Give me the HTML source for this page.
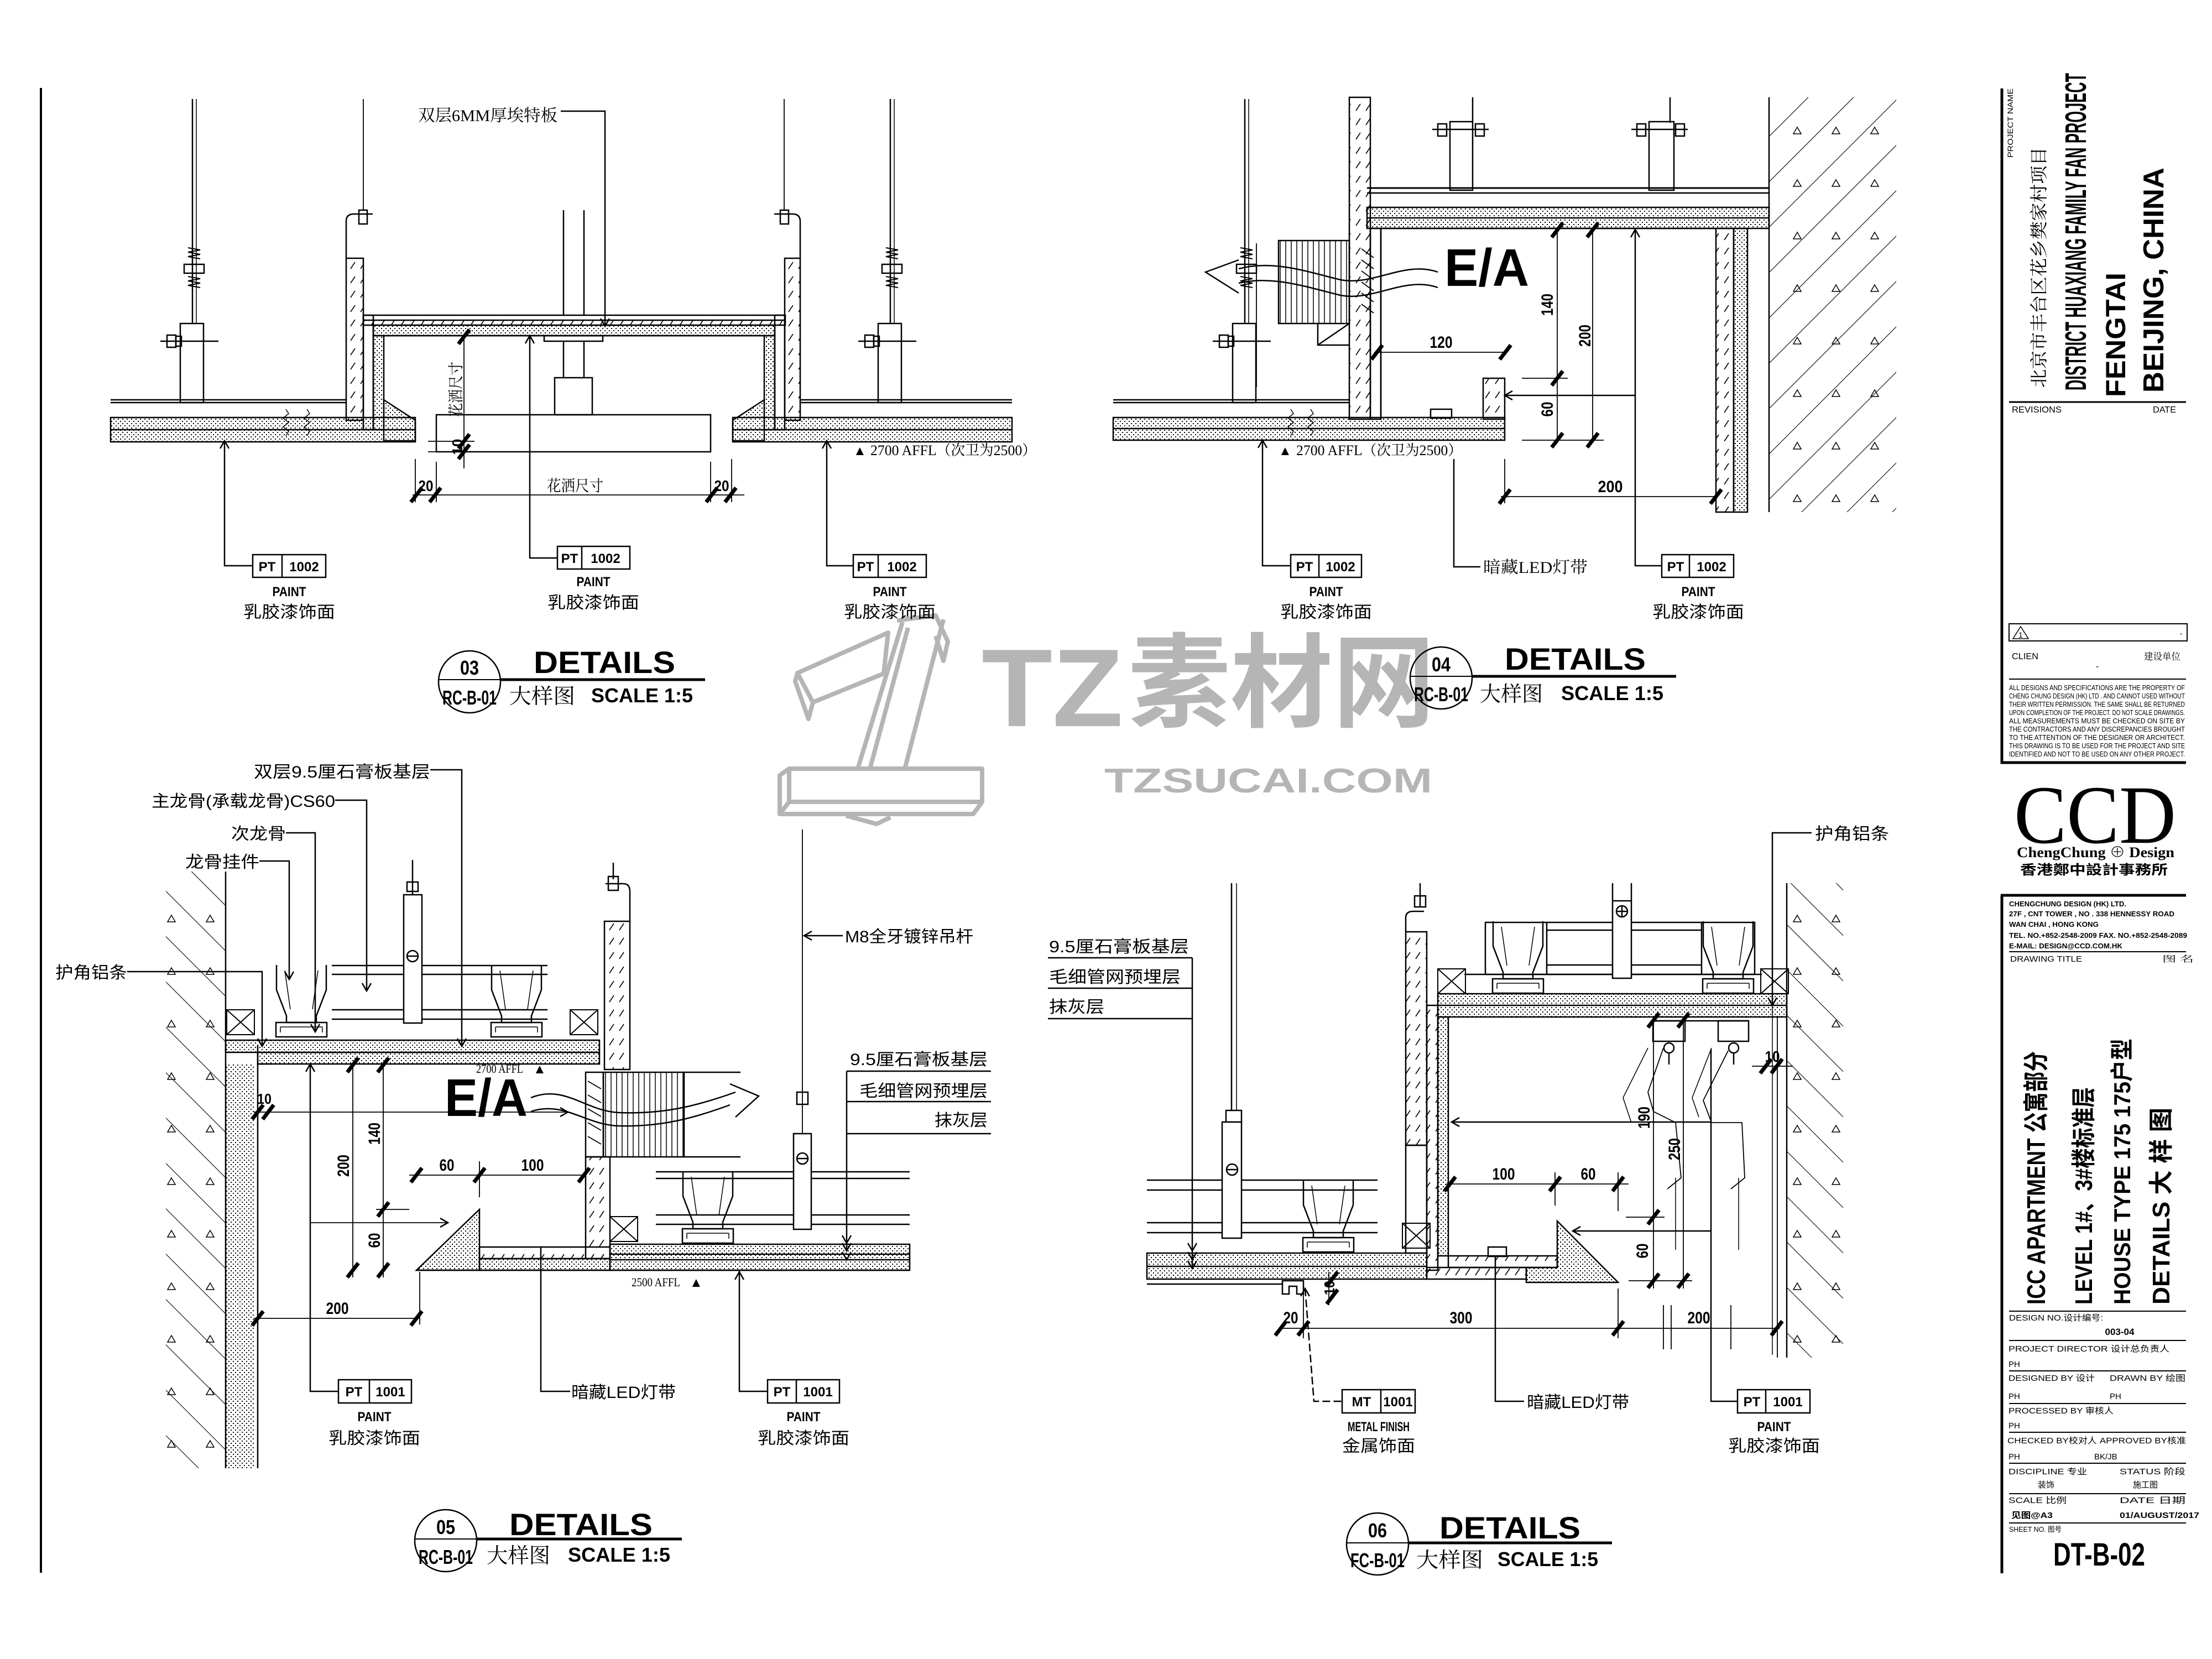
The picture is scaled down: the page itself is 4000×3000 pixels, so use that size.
<!DOCTYPE html>
<html><head><meta charset="utf-8">
<style>
html,body{margin:0;padding:0;background:#fff;}
svg{display:block;}
svg text{fill:#000;stroke:none;font-family:"Liberation Sans","Noto Sans CJK SC",sans-serif;}
.b{font-weight:bold;}
.n{font-family:"Liberation Sans Narrow","Liberation Sans","Noto Sans CJK SC",sans-serif !important;}
.cn{font-family:"Liberation Serif","Noto Serif CJK SC",serif !important;}
.tc{font-family:"Liberation Sans","Noto Sans CJK TC",sans-serif !important;}
</style></head><body>
<svg width="4000" height="3000" viewBox="0 0 4000 3000" xmlns="http://www.w3.org/2000/svg">
<defs>
<pattern id="dots" width="8" height="8" patternUnits="userSpaceOnUse"><rect x="1" y="1" width="2" height="2" fill="#000"/><rect x="5" y="5" width="2" height="2" fill="#000"/></pattern>
<pattern id="gyp" width="18" height="26" patternUnits="userSpaceOnUse"><path d="M4,18 L12,6" stroke="#000" stroke-width="1.6"/></pattern>
<pattern id="hs" width="58" height="58" patternUnits="userSpaceOnUse" patternTransform="rotate(45)"><line x1="0" y1="0" x2="0" y2="58" stroke="#000" stroke-width="2.2"/></pattern>
<pattern id="hb" width="58" height="58" patternUnits="userSpaceOnUse" patternTransform="rotate(-45)"><line x1="0" y1="0" x2="0" y2="58" stroke="#000" stroke-width="2.2"/></pattern>
<pattern id="tri" width="70" height="95" patternUnits="userSpaceOnUse"><path d="M30,40 l7,12 h-14z" fill="none" stroke="#000" stroke-width="1.5"/></pattern>
<pattern id="slat" width="10" height="10" patternUnits="userSpaceOnUse"><line x1="5" y1="0" x2="5" y2="10" stroke="#000" stroke-width="1.5"/></pattern>
<g id="tk"><line x1="-10" y1="13" x2="10" y2="-13" stroke="#000" stroke-width="7"/></g>
<polyline id="au" points="-8,14 0,0 8,14" fill="none" stroke="#000" stroke-width="2.5"/>
<polyline id="ad" points="-8,-14 0,0 8,-14" fill="none" stroke="#000" stroke-width="2.5"/>
<polyline id="al" points="14,-8 0,0 14,8" fill="none" stroke="#000" stroke-width="2.5"/>
<polyline id="ar" points="-14,-8 0,0 -14,8" fill="none" stroke="#000" stroke-width="2.5"/>
<g id="pf" fill="none" stroke="#000" stroke-width="2.5">
 <path d="M-45,0 V45 L-27,92 V104 H27 V92 L45,45 V0"/>
 <path d="M-30,10 L-20,80 M30,10 L20,80" stroke-width="1.5"/>
 <path d="M-46,104 H46 V130 H-46 Z"/>
 <path d="M-38,112 H38 M-38,112 V122 M38,112 V122" stroke-width="1.5"/>
</g>
<g id="bx" fill="none" stroke="#000" stroke-width="2"><rect x="0" y="0" width="50" height="45"/><path d="M0,0 L50,45 M50,0 L0,45"/></g>
<g id="hang" fill="none" stroke="#000" stroke-width="2.5">
 <line x1="0" y1="0" x2="0" y2="406"/>
 <line x1="7" y1="0" x2="7" y2="406" stroke-width="1.5"/>
 <path d="M-8,269 l22,4 l-22,4 l22,4 l-22,4 l22,4" stroke-width="2"/>
 <rect x="-15" y="299" width="36" height="16"/>
 <path d="M-8,321 l22,4 l-22,4 l22,4 l-22,4 l22,4" stroke-width="2"/>
 <rect x="-22" y="406" width="42" height="143"/>
 <line x1="-58" y1="438" x2="47" y2="438"/>
 <rect x="-46" y="427" width="16" height="22"/><rect x="-30" y="429" width="10" height="18"/>
</g>
</defs>

<!-- ===== WATERMARK ===== -->
<g fill="none" stroke="#b5b5b5" stroke-width="8" stroke-linejoin="round">
 <path d="M1427,1390 H1776 V1450 H1427 Z"/>
 <path d="M1427,1390 L1410,1402 V1472 L1427,1450"/>
 <path d="M1410,1472 H1760 L1776,1450"/>
 <path d="M1530,1475 L1585,1490 L1610,1478"/>
 <path d="M1632,1125 L1552,1387 M1706,1120 L1637,1387 M1642,1135 L1574,1387"/>
 <path d="M1622,1122 L1692,1113 L1714,1160 L1706,1195 L1692,1150"/>
 <path d="M1442,1217 L1606,1144 L1598,1218 L1470,1270 L1462,1300 L1438,1232 Z"/>
 <path d="M1442,1217 L1470,1270"/>
</g>
<text x="1775" y="1313" style="fill:#b5b5b5" class="b" font-size="200" textLength="256" lengthAdjust="spacingAndGlyphs">TZ</text>
<text x="2040" y="1300" style="fill:#b5b5b5" class="b" font-size="185" textLength="555" lengthAdjust="spacingAndGlyphs">素材网</text>
<text x="1997" y="1433" style="fill:#b5b5b5" class="b" font-size="62" textLength="593" lengthAdjust="spacingAndGlyphs">TZSUCAI.COM</text>

<!-- frame line -->
<line x1="74" y1="159" x2="74" y2="2844" stroke="#000" stroke-width="4"/>

<g fill="none" stroke="#000" stroke-width="2.5">

<!-- ================= DETAIL 03 ================= -->
<use href="#hang" x="348" y="179"/>
<use href="#hang" x="1610" y="179"/>
<line x1="200" y1="723" x2="626" y2="723"/><line x1="200" y1="728" x2="626" y2="728"/>
<rect x="200" y="755" width="551" height="44" fill="url(#dots)"/>
<line x1="200" y1="777" x2="751" y2="777"/>
<path d="M517,740 l5,8 l-10,8 l10,8 l-10,8 l10,8 l-5,8 M555,740 l5,8 l-10,8 l10,8 l-10,8 l10,8 l-5,8" stroke-width="1.5"/>
<line x1="1447" y1="723" x2="1830" y2="723"/><line x1="1447" y1="728" x2="1830" y2="728"/>
<rect x="1325" y="755" width="505" height="44" fill="url(#dots)"/>
<line x1="1325" y1="777" x2="1830" y2="777"/>
<rect x="626" y="467" width="31" height="293" fill="url(#gyp)"/>
<rect x="657" y="570" width="18" height="207"/>
<rect x="675" y="607" width="19" height="170" fill="url(#dots)"/>
<path d="M694,723 L751,760 V797 H694 Z" fill="url(#dots)"/>
<rect x="1419" y="467" width="28" height="293" fill="url(#gyp)"/>
<rect x="1401" y="570" width="18" height="207"/>
<rect x="1382" y="607" width="19" height="170" fill="url(#dots)"/>
<path d="M1382,723 L1325,760 V797 H1382 Z" fill="url(#dots)"/>
<rect x="657" y="570" width="763" height="18" fill="url(#gyp)"/>
<line x1="657" y1="579" x2="1420" y2="579"/>
<rect x="675" y="588" width="726" height="19" fill="url(#dots)"/>
<line x1="694" y1="607" x2="1382" y2="607"/>
<path d="M626,467 V400 Q626,387 640,387 H674"/>
<rect x="649" y="380" width="15" height="25"/>
<line x1="657" y1="179" x2="657" y2="380" stroke-width="1.8"/>
<path d="M1447,467 V400 Q1447,387 1433,387 H1400"/>
<rect x="1411" y="380" width="15" height="25"/>
<line x1="1418" y1="179" x2="1418" y2="380" stroke-width="1.8"/>
<line x1="1019" y1="380" x2="1019" y2="570"/><line x1="1056" y1="380" x2="1056" y2="570"/>
<rect x="984" y="607" width="106" height="10"/>
<line x1="1019" y1="617" x2="1019" y2="683"/><line x1="1056" y1="617" x2="1056" y2="683"/>
<rect x="1003" y="683" width="68" height="67"/>
<rect x="789" y="750" width="496" height="67"/>
<line x1="839" y1="607" x2="839" y2="847" stroke-width="1.8"/>
<line x1="774" y1="798" x2="858" y2="798" stroke-width="1.8"/>
<line x1="774" y1="817" x2="858" y2="817" stroke-width="1.8"/>
<use href="#tk" x="839" y="609"/><use href="#tk" x="839" y="798"/><use href="#tk" x="839" y="817"/>
<line x1="746" y1="895" x2="1346" y2="895" stroke-width="1.8"/>
<line x1="751" y1="830" x2="751" y2="908" stroke-width="1.8"/><line x1="789" y1="835" x2="789" y2="908" stroke-width="1.8"/>
<line x1="1285" y1="835" x2="1285" y2="908" stroke-width="1.8"/><line x1="1323" y1="830" x2="1323" y2="908" stroke-width="1.8"/>
<use href="#tk" x="753" y="895"/><use href="#tk" x="787" y="895"/><use href="#tk" x="1287" y="895"/><use href="#tk" x="1321" y="895"/>
<path d="M1014,201 H1094 V590"/><use href="#ad" x="1094" y="590"/>
<path d="M958,607 V1009 H1008"/><use href="#au" x="958" y="607"/>
<path d="M406,797 V1023 H457"/><use href="#au" x="406" y="797"/>
<path d="M1495,797 V1023 H1543"/><use href="#au" x="1495" y="797"/>
<rect x="457" y="1003" width="132" height="41"/><line x1="510" y1="1003" x2="510" y2="1044"/>
<rect x="1008" y="988" width="131" height="41"/><line x1="1052" y1="988" x2="1052" y2="1029"/>
<rect x="1543" y="1003" width="132" height="41"/><line x1="1588" y1="1003" x2="1588" y2="1044"/>
<circle cx="849" cy="1233" r="56"/>
<line x1="793" y1="1229" x2="905" y2="1229" stroke-width="2"/>
<line x1="905" y1="1229" x2="1275" y2="1229" stroke-width="5"/>

<!-- ================= DETAIL 04 ================= -->
<use href="#hang" x="2251" y="179"/>
<line x1="2272" y1="440" x2="2272" y2="700" stroke-width="1.8"/>
<line x1="2013" y1="723" x2="2440" y2="723"/><line x1="2013" y1="728" x2="2440" y2="728"/>
<rect x="2013" y="755" width="708" height="41" fill="url(#dots)"/>
<line x1="2013" y1="775" x2="2721" y2="775"/>
<path d="M2334,740 l5,8 l-10,8 l10,8 l-10,8 l10,8 l-5,8 M2370,740 l5,8 l-10,8 l10,8 l-10,8 l10,8 l-5,8" stroke-width="1.5"/>
<rect x="2440" y="176" width="38" height="582" fill="url(#gyp)"/>
<rect x="2478" y="413" width="19" height="345"/>
<path d="M2462,450 l22,16 M2462,470 l22,16 M2462,490 l22,16 M2462,510 l22,16 M2462,530 l22,16 M2462,550 l22,16" stroke-width="1.8"/>
<rect x="2312" y="435" width="128" height="150" fill="url(#slat)"/>
<path d="M2383,585 V624 H2440 M2383,624 L2440,585"/>
<path d="M2600,492 C2540,470 2480,520 2420,505 C2360,490 2300,470 2240,486" stroke-width="2.5"/>
<path d="M2600,520 C2540,498 2480,548 2420,533 C2360,518 2300,498 2240,512" stroke-width="2.5"/>
<path d="M2240,470 L2180,492 L2240,530"/>
<line x1="2472" y1="340" x2="3199" y2="340" stroke-width="3"/><line x1="2472" y1="349" x2="3199" y2="349"/>
<rect x="2472" y="375" width="727" height="38" fill="url(#dots)"/>
<line x1="2472" y1="394" x2="3199" y2="394"/>
<rect x="2622" y="220" width="41" height="124"/><line x1="2663" y1="176" x2="2663" y2="222"/>
<line x1="2590" y1="234" x2="2692" y2="234"/><rect x="2600" y="224" width="16" height="22"/><rect x="2668" y="224" width="16" height="22"/>
<rect x="2982" y="220" width="45" height="124"/><line x1="3020" y1="176" x2="3020" y2="222"/>
<line x1="2950" y1="234" x2="3052" y2="234"/><rect x="2960" y="224" width="16" height="22"/><rect x="3030" y="224" width="16" height="22"/>
<line x1="2497" y1="413" x2="3103" y2="413"/>
<line x1="2497" y1="413" x2="2497" y2="758"/>
<rect x="3103" y="413" width="32" height="513" fill="url(#gyp)"/>
<rect x="3135" y="413" width="25" height="513" fill="url(#dots)"/>
<rect x="3199" y="176" width="230" height="750" fill="url(#hs)" stroke="none"/>
<rect x="3199" y="176" width="230" height="750" fill="url(#tri)" stroke="none"/>
<line x1="3199" y1="176" x2="3199" y2="926"/>
<rect x="2682" y="684" width="39" height="74" fill="url(#gyp)"/>
<rect x="2587" y="740" width="38" height="16"/>
<line x1="2485" y1="637" x2="2725" y2="637" stroke-width="1.8"/>
<use href="#tk" x="2490" y="637"/><use href="#tk" x="2722" y="637"/>
<line x1="2816" y1="413" x2="2816" y2="800" stroke-width="1.8"/>
<line x1="2880" y1="413" x2="2880" y2="800" stroke-width="1.8"/>
<line x1="2752" y1="684" x2="2835" y2="684" stroke-width="1.8"/>
<line x1="2752" y1="796" x2="2900" y2="796" stroke-width="1.8"/>
<use href="#tk" x="2816" y="416"/><use href="#tk" x="2816" y="684"/><use href="#tk" x="2816" y="796"/>
<use href="#tk" x="2880" y="416"/><use href="#tk" x="2880" y="796"/>
<path d="M2957,415 V1023 H3005"/><use href="#au" x="2957" y="415"/>
<line x1="2721" y1="715" x2="2957" y2="715"/><use href="#al" x="2721" y="715"/>
<line x1="2714" y1="898" x2="3103" y2="898" stroke-width="1.8"/>
<line x1="2721" y1="830" x2="2721" y2="910" stroke-width="1.8"/>
<use href="#tk" x="2721" y="898"/><use href="#tk" x="3103" y="898"/>
<path d="M2283,796 V1023 H2334"/><use href="#au" x="2283" y="796"/>
<path d="M2629,830 V1025 H2677"/>
<rect x="2334" y="1003" width="128" height="41"/><line x1="2385" y1="1003" x2="2385" y2="1044"/>
<rect x="3005" y="1003" width="130" height="41"/><line x1="3055" y1="1003" x2="3055" y2="1044"/>
<circle cx="2606" cy="1226" r="56"/>
<line x1="2550" y1="1223" x2="2662" y2="1223" stroke-width="2"/>
<line x1="2662" y1="1223" x2="3031" y2="1223" stroke-width="5"/>

<!-- ================= DETAIL 05 ================= -->
<rect x="300" y="1576" width="108" height="1079" fill="url(#hb)" stroke="none"/>
<rect x="300" y="1576" width="108" height="1079" fill="url(#tri)" stroke="none"/>
<line x1="408" y1="1576" x2="408" y2="2655"/>
<rect x="408" y="1924" width="52" height="731" fill="url(#dots)" stroke="none"/>
<line x1="466" y1="1924" x2="466" y2="2655"/>
<rect x="408" y="1881" width="676" height="22" fill="url(#dots)"/>
<rect x="466" y="1903" width="618" height="21" fill="url(#dots)"/>
<path d="M466,1890 V1924 H490"/>
<use href="#bx" x="410" y="1826"/><use href="#bx" x="1031" y="1826"/>
<line x1="600" y1="1746" x2="990" y2="1746"/><line x1="600" y1="1762" x2="990" y2="1762"/>
<line x1="600" y1="1826" x2="990" y2="1826"/><line x1="600" y1="1843" x2="990" y2="1843"/>
<use href="#pf" x="545" y="1745"/><use href="#pf" x="934" y="1745"/>
<rect x="730" y="1618" width="33" height="232" fill="#fff"/>
<line x1="746" y1="1555" x2="746" y2="1618"/><rect x="736" y="1595" width="20" height="17"/>
<circle cx="746" cy="1729" r="10"/><line x1="736" y1="1729" x2="756" y2="1729"/>
<rect x="1093" y="1666" width="46" height="268" fill="url(#gyp)"/>
<path d="M1139,1666 V1612 Q1139,1598 1127,1598 H1095"/>
<rect x="1100" y="1585" width="18" height="25"/><line x1="1109" y1="1560" x2="1109" y2="1590"/>
<rect x="1091" y="1939" width="146" height="153" fill="url(#slat)"/>
<line x1="1237" y1="1939" x2="1339" y2="1939"/><line x1="1237" y1="2092" x2="1339" y2="2092"/>
<rect x="1059" y="1939" width="32" height="153"/>
<path d="M1063,1955 l24,14 M1063,1980 l24,14 M1063,2005 l24,14 M1063,2030 l24,14 M1063,2055 l24,14" stroke-width="1.8"/>
<path d="M960,1985 C1020,1960 1060,2010 1120,2012 C1200,2015 1260,2000 1330,1975"/>
<path d="M960,2010 C1020,1990 1060,2035 1120,2036 C1200,2038 1260,2020 1320,1998"/>
<path d="M1320,1960 L1372,1982 L1330,2020"/>
<rect x="1059" y="2092" width="44" height="184" fill="url(#gyp)"/>
<rect x="867" y="2255" width="236" height="21" fill="url(#gyp)"/>
<path d="M753,2297 L867,2187 V2297 Z" fill="url(#dots)"/>
<rect x="867" y="2276" width="236" height="21" fill="url(#dots)"/>
<line x1="753" y1="2297" x2="1645" y2="2297"/>
<rect x="1103" y="2250" width="542" height="47" fill="url(#dots)"/>
<line x1="1103" y1="2268" x2="1645" y2="2268"/><line x1="1103" y1="2278" x2="1645" y2="2278"/>
<line x1="1186" y1="2119" x2="1645" y2="2119"/><line x1="1186" y1="2131" x2="1645" y2="2131"/>
<line x1="1186" y1="2197" x2="1645" y2="2197"/><line x1="1186" y1="2214" x2="1645" y2="2214"/>
<use href="#bx" x="1103" y="2200"/>
<use href="#pf" x="1280" y="2118"/>
<line x1="1451" y1="1500" x2="1451" y2="2050" stroke-width="1.8"/>
<rect x="1441" y="1975" width="20" height="22"/>
<rect x="1435" y="2050" width="32" height="173" fill="#fff"/>
<circle cx="1451" cy="2095" r="10"/><line x1="1441" y1="2095" x2="1461" y2="2095"/>
<line x1="1454" y1="1692" x2="1524" y2="1692"/><use href="#al" x="1454" y="1692"/>
<line x1="1531" y1="1937" x2="1792" y2="1937"/><line x1="1531" y1="1992" x2="1792" y2="1992"/><line x1="1531" y1="2050" x2="1792" y2="2050"/>
<line x1="1531" y1="1937" x2="1531" y2="2262"/><use href="#ad" x="1531" y="2248"/><use href="#ad" x="1531" y="2262"/><use href="#ad" x="1531" y="2278"/>
<path d="M778,1392 H835 V1892"/><use href="#ad" x="835" y="1892"/>
<path d="M606,1447 H663 V1792"/><use href="#ad" x="663" y="1792"/>
<path d="M517,1506 H570 V1866"/><use href="#ad" x="570" y="1866"/>
<path d="M469,1557 H523 V1771"/><use href="#ad" x="523" y="1771"/>
<path d="M230,1757 H474 V1892"/><use href="#ad" x="474" y="1892"/>
<line x1="459" y1="2011" x2="1027" y2="2011" stroke-width="1.8"/><use href="#ar" x="1027" y="2011"/>
<use href="#tk" x="466" y="2011"/><use href="#tk" x="485" y="2011"/>
<path d="M561,1924 V2516 H612"/><use href="#au" x="561" y="1924"/>
<line x1="561" y1="2211" x2="810" y2="2211" stroke-width="1.8"/><use href="#ar" x="810" y="2211"/>
<line x1="638" y1="1924" x2="638" y2="2310" stroke-width="1.8"/>
<use href="#tk" x="638" y="1926"/><use href="#tk" x="638" y="2297"/>
<line x1="693" y1="1924" x2="693" y2="2310" stroke-width="1.8"/>
<use href="#tk" x="693" y="1926"/><use href="#tk" x="693" y="2187"/><use href="#tk" x="693" y="2297"/>
<line x1="680" y1="2187" x2="740" y2="2187" stroke-width="1.8"/>
<line x1="740" y1="2125" x2="1059" y2="2125" stroke-width="1.8"/>
<use href="#tk" x="753" y="2125"/><use href="#tk" x="867" y="2125"/><use href="#tk" x="1056" y="2125"/>
<line x1="867" y1="2100" x2="867" y2="2165" stroke-width="1.8"/>
<line x1="459" y1="2384" x2="759" y2="2384" stroke-width="1.8"/>
<use href="#tk" x="466" y="2384"/><use href="#tk" x="753" y="2384"/>
<line x1="759" y1="2300" x2="759" y2="2395" stroke-width="1.8"/>
<path d="M978,2255 V2516 H1031"/>
<path d="M1337,2297 V2516 H1388"/><use href="#au" x="1337" y="2300"/>
<rect x="612" y="2495" width="132" height="42"/><line x1="668" y1="2495" x2="668" y2="2537"/>
<rect x="1388" y="2495" width="130" height="42"/><line x1="1440" y1="2495" x2="1440" y2="2537"/>
<circle cx="806" cy="2786" r="56"/>
<line x1="750" y1="2783" x2="862" y2="2783" stroke-width="2"/>
<line x1="862" y1="2783" x2="1233" y2="2783" stroke-width="5"/>

<!-- ================= DETAIL 06 ================= -->
<line x1="1895" y1="1732" x2="2156" y2="1732"/><line x1="1895" y1="1787" x2="2156" y2="1787"/><line x1="1895" y1="1842" x2="2156" y2="1842"/>
<line x1="2156" y1="1732" x2="2156" y2="2290"/><use href="#ad" x="2156" y="2262"/><use href="#ad" x="2156" y="2278"/><use href="#ad" x="2156" y="2294"/>
<line x1="2227" y1="1597" x2="2227" y2="2008"/><line x1="2236" y1="1597" x2="2236" y2="2008" stroke-width="1.5"/>
<rect x="2217" y="2008" width="28" height="21"/>
<line x1="2074" y1="2134" x2="2491" y2="2134"/><line x1="2074" y1="2152" x2="2491" y2="2152"/>
<line x1="2074" y1="2211" x2="2491" y2="2211"/><line x1="2074" y1="2229" x2="2491" y2="2229"/>
<rect x="2210" y="2029" width="35" height="210" fill="#fff"/>
<circle cx="2228" cy="2115" r="10"/><line x1="2218" y1="2115" x2="2238" y2="2115"/>
<use href="#pf" x="2402" y="2134"/>
<rect x="2074" y="2266" width="506" height="47" fill="url(#dots)"/>
<line x1="2074" y1="2290" x2="2580" y2="2290"/>
<line x1="2074" y1="2322" x2="2319" y2="2322"/>
<path d="M2319,2316 H2357 V2340 H2345 V2326 H2331 V2340 H2319 Z"/>
<rect x="2542" y="1685" width="38" height="386" fill="url(#gyp)"/>
<line x1="2568" y1="1597" x2="2568" y2="1640"/><rect x="2558" y="1620" width="20" height="20"/>
<path d="M2542,1685 V1660 Q2542,1648 2555,1648 H2575"/>
<rect x="2542" y="2071" width="38" height="195"/>
<use href="#bx" x="2536" y="2212"/>
<rect x="2580" y="1818" width="20" height="479" fill="url(#gyp)"/>
<rect x="2600" y="1839" width="19" height="432" fill="url(#dots)"/>
<rect x="2600" y="1797" width="631" height="42" fill="url(#dots)"/>
<line x1="2600" y1="1818" x2="3231" y2="1818"/>
<rect x="2686" y="1668" width="111" height="94"/>
<rect x="3077" y="1668" width="96" height="94"/>
<line x1="2797" y1="1668" x2="3077" y2="1668"/><line x1="2797" y1="1682" x2="3077" y2="1682"/>
<line x1="2797" y1="1745" x2="3077" y2="1745"/><line x1="2797" y1="1762" x2="3077" y2="1762"/>
<line x1="2648" y1="1762" x2="3186" y2="1762"/>
<use href="#bx" x="2600" y="1752"/><use href="#bx" x="3184" y="1752"/>
<use href="#pf" x="2745" y="1666"/><use href="#pf" x="3125" y="1666"/>
<line x1="2916" y1="1597" x2="2916" y2="1629"/><line x1="2950" y1="1597" x2="2950" y2="1629"/>
<rect x="2916" y="1629" width="34" height="140" fill="#fff"/>
<circle cx="2933" cy="1648" r="10"/><line x1="2923" y1="1648" x2="2943" y2="1648"/><line x1="2933" y1="1638" x2="2933" y2="1658"/>
<rect x="3231" y="1597" width="102" height="858" fill="url(#hb)" stroke="none"/>
<rect x="3231" y="1597" width="102" height="858" fill="url(#tri)" stroke="none"/>
<line x1="3231" y1="1597" x2="3231" y2="2455"/>
<line x1="3214" y1="1839" x2="3214" y2="2455" stroke-width="1.8"/>
<rect x="2989" y="1846" width="58" height="37"/><rect x="3107" y="1846" width="55" height="37"/>
<line x1="2989" y1="1846" x2="3162" y2="1846"/>
<circle cx="3018" cy="1895" r="9"/><circle cx="3135" cy="1895" r="9"/>
<line x1="3018" y1="1904" x2="3018" y2="1925"/><line x1="3135" y1="1904" x2="3135" y2="1925"/>
<polyline points="3008,1895 2980,1975 2990,2010 3030,2030 3040,2130 3015,2150" stroke-width="1.8"/>
<polyline points="2980,1895 2935,1985 2950,2030" stroke-width="1.5"/>
<polyline points="3125,1900 3080,1990 3095,2030 3150,2030 3155,2130 3130,2150" stroke-width="1.8"/>
<polyline points="3095,1895 3060,1985 3072,2020" stroke-width="1.5"/>
<line x1="3030" y1="2130" x2="3030" y2="2260" stroke-width="1.5"/>
<line x1="3144" y1="2130" x2="3144" y2="2260" stroke-width="1.5"/>
<rect x="2619" y="2271" width="197" height="21" fill="url(#gyp)"/>
<rect x="2580" y="2292" width="180" height="21" fill="url(#gyp)"/>
<path d="M2816,2208 L2926,2319 H2760 V2292 H2816 Z" fill="url(#dots)"/>
<rect x="2691" y="2255" width="33" height="17"/>
<line x1="2625" y1="2029" x2="3094" y2="2029"/><use href="#al" x="2625" y="2029"/>
<path d="M3094,1897 V2534 H3142"/>
<line x1="2844" y1="2226" x2="3094" y2="2226"/><use href="#al" x="2844" y="2226"/>
<line x1="2990" y1="1839" x2="2990" y2="2330" stroke-width="1.8"/>
<line x1="3044" y1="1839" x2="3044" y2="2330" stroke-width="1.8"/>
<use href="#tk" x="2990" y="1845"/><use href="#tk" x="2990" y="2201"/><use href="#tk" x="2990" y="2316"/>
<use href="#tk" x="3044" y="1845"/><use href="#tk" x="3044" y="2316"/>
<line x1="2940" y1="2201" x2="3010" y2="2201" stroke-width="1.8"/>
<line x1="2945" y1="2316" x2="3060" y2="2316" stroke-width="1.8"/>
<line x1="2615" y1="2141" x2="2945" y2="2141" stroke-width="1.8"/>
<use href="#tk" x="2622" y="2141"/><use href="#tk" x="2812" y="2141"/><use href="#tk" x="2926" y="2141"/>
<line x1="2812" y1="2120" x2="2812" y2="2180" stroke-width="1.8"/>
<line x1="2926" y1="2120" x2="2926" y2="2190" stroke-width="1.8"/>
<line x1="2312" y1="2402" x2="3218" y2="2402" stroke-width="1.8"/>
<use href="#tk" x="2316" y="2402"/><use href="#tk" x="2357" y="2402"/><use href="#tk" x="2926" y="2402"/><use href="#tk" x="3213" y="2402"/>
<line x1="2357" y1="2330" x2="2357" y2="2420" stroke-width="1.8"/>
<line x1="2926" y1="2330" x2="2926" y2="2420" stroke-width="1.8"/>
<line x1="3008" y1="2360" x2="3008" y2="2440" stroke-width="1.8"/>
<line x1="3022" y1="2360" x2="3022" y2="2440" stroke-width="1.8"/>
<line x1="3130" y1="2360" x2="3130" y2="2440" stroke-width="1.8"/>
<line x1="2403" y1="2300" x2="2403" y2="2360" stroke-width="1.8"/>
<use href="#tk" x="2409" y="2313"/><use href="#tk" x="2409" y="2345"/>
<line x1="3168" y1="1928" x2="3242" y2="1928" stroke-width="1.8"/>
<use href="#tk" x="3193" y="1928"/><use href="#tk" x="3213" y="1928"/>
<path d="M3276,1506 H3205 V1818"/><use href="#ad" x="3205" y="1818"/>
<line x1="3205" y1="1818" x2="3205" y2="2450" stroke-width="1.5"/>
<polyline points="2360,2330 2376,2534 2427,2534" stroke-dasharray="14,6"/><use href="#au" x="2360" y="2330"/>
<path d="M2704,2271 V2534 H2756"/>
<rect x="2427" y="2513" width="132" height="42"/><line x1="2497" y1="2513" x2="2497" y2="2555"/>
<rect x="3142" y="2513" width="131" height="42"/><line x1="3193" y1="2513" x2="3193" y2="2555"/>
<circle cx="2491" cy="2792" r="56"/>
<line x1="2435" y1="2790" x2="2547" y2="2790" stroke-width="2"/>
<line x1="2547" y1="2790" x2="2915" y2="2790" stroke-width="5"/>

<!-- ================= TITLE BLOCK ================= -->
<line x1="3620" y1="160" x2="3620" y2="1381" stroke-width="5"/>
<line x1="3620" y1="1619" x2="3620" y2="2845" stroke-width="5"/>
<line x1="3633" y1="727" x2="3953" y2="727" stroke-width="3"/>
<rect x="3633" y="1128" width="322" height="31" stroke-width="2"/>
<path d="M3640,1155 L3654,1133 L3668,1155 Z" stroke-width="1.5"/>
<line x1="3633" y1="1228" x2="3953" y2="1228" stroke-width="2"/>
<line x1="3618" y1="1379" x2="3953" y2="1379" stroke-width="5"/>
<line x1="3618" y1="1619" x2="3953" y2="1619" stroke-width="5"/>
<g stroke-width="2">
<line x1="3633" y1="1721" x2="3953" y2="1721"/>
<line x1="3633" y1="2371" x2="3953" y2="2371"/>
<line x1="3633" y1="2424" x2="3953" y2="2424"/>
<line x1="3633" y1="2479" x2="3953" y2="2479"/>
<line x1="3633" y1="2538" x2="3953" y2="2538"/>
<line x1="3633" y1="2590" x2="3953" y2="2590"/>
<line x1="3633" y1="2646" x2="3953" y2="2646"/>
<line x1="3633" y1="2701" x2="3953" y2="2701"/>
<line x1="3633" y1="2754" x2="3953" y2="2754"/>
</g>
</g>

<!-- ================= TEXT ================= -->
<text x="756" y="219" class="cn" font-size="30" textLength="252" lengthAdjust="spacingAndGlyphs">双层6MM厚埃特板</text>
<text transform="translate(834,704) rotate(-90)" text-anchor="middle" class="cn" font-size="28" textLength="100" lengthAdjust="spacingAndGlyphs">花洒尺寸</text>
<text transform="translate(836,808) rotate(-90)" text-anchor="middle" class="b n" font-size="26">10</text>
<text x="770" y="888" text-anchor="middle" class="b n" font-size="28" textLength="27" lengthAdjust="spacingAndGlyphs">20</text>
<text x="1040" y="888" text-anchor="middle" class="cn" font-size="28" textLength="102" lengthAdjust="spacingAndGlyphs">花洒尺寸</text>
<text x="1305" y="888" text-anchor="middle" class="b n" font-size="28" textLength="27" lengthAdjust="spacingAndGlyphs">20</text>
<text x="1543" y="823" font-size="24">▲</text>
<text x="1574" y="823" class="cn" font-size="26" textLength="300" lengthAdjust="spacingAndGlyphs">2700 AFFL（次卫为2500）</text>
<g class="b n" font-size="24">
<text x="483" y="1033" text-anchor="middle">PT</text><text x="550" y="1033" text-anchor="middle">1002</text>
<text x="1030" y="1018" text-anchor="middle">PT</text><text x="1095" y="1018" text-anchor="middle">1002</text>
<text x="1565" y="1033" text-anchor="middle">PT</text><text x="1631" y="1033" text-anchor="middle">1002</text>
<text x="523" y="1078" text-anchor="middle" textLength="61" lengthAdjust="spacingAndGlyphs">PAINT</text>
<text x="1073" y="1060" text-anchor="middle" textLength="61" lengthAdjust="spacingAndGlyphs">PAINT</text>
<text x="1609" y="1078" text-anchor="middle" textLength="61" lengthAdjust="spacingAndGlyphs">PAINT</text>
</g>
<g class="cn" font-size="30">
<text x="440" y="1117" textLength="166" lengthAdjust="spacingAndGlyphs">乳胶漆饰面</text>
<text x="990" y="1100" textLength="166" lengthAdjust="spacingAndGlyphs">乳胶漆饰面</text>
<text x="1526" y="1117" textLength="166" lengthAdjust="spacingAndGlyphs">乳胶漆饰面</text>
</g>
<text x="849" y="1220" text-anchor="middle" class="b n" font-size="36" textLength="34" lengthAdjust="spacingAndGlyphs">03</text>
<text x="849" y="1274" text-anchor="middle" class="b n" font-size="36" textLength="98" lengthAdjust="spacingAndGlyphs">RC-B-01</text>
<text x="965" y="1217" class="b" font-size="56" textLength="256" lengthAdjust="spacingAndGlyphs">DETAILS</text>
<text x="921" y="1272" class="cn" font-size="38" textLength="119" lengthAdjust="spacingAndGlyphs">大样图</text>
<text x="1069" y="1270" class="b" font-size="36" textLength="184" lengthAdjust="spacingAndGlyphs">SCALE 1:5</text>

<text x="2612" y="517" class="b" font-size="96" textLength="153" lengthAdjust="spacingAndGlyphs">E/A</text>
<text x="2606" y="629" text-anchor="middle" class="b n" font-size="30" textLength="41" lengthAdjust="spacingAndGlyphs">120</text>
<text transform="translate(2808,551) rotate(-90)" text-anchor="middle" class="b n" font-size="30" textLength="40" lengthAdjust="spacingAndGlyphs">140</text>
<text transform="translate(2808,740) rotate(-90)" text-anchor="middle" class="b n" font-size="30" textLength="27" lengthAdjust="spacingAndGlyphs">60</text>
<text transform="translate(2876,607) rotate(-90)" text-anchor="middle" class="b n" font-size="30" textLength="40" lengthAdjust="spacingAndGlyphs">200</text>
<text x="2912" y="890" text-anchor="middle" class="b n" font-size="30" textLength="45" lengthAdjust="spacingAndGlyphs">200</text>
<text x="2312" y="823" font-size="24">▲</text>
<text x="2344" y="823" class="cn" font-size="26" textLength="300" lengthAdjust="spacingAndGlyphs">2700 AFFL（次卫为2500）</text>
<text x="2682" y="1036" class="cn" font-size="30" textLength="189" lengthAdjust="spacingAndGlyphs">暗藏LED灯带</text>
<g class="b n" font-size="24">
<text x="2359" y="1033" text-anchor="middle">PT</text><text x="2424" y="1033" text-anchor="middle">1002</text>
<text x="3030" y="1033" text-anchor="middle">PT</text><text x="3095" y="1033" text-anchor="middle">1002</text>
<text x="2398" y="1078" text-anchor="middle" textLength="61" lengthAdjust="spacingAndGlyphs">PAINT</text>
<text x="3071" y="1078" text-anchor="middle" textLength="61" lengthAdjust="spacingAndGlyphs">PAINT</text>
</g>
<g class="cn" font-size="30">
<text x="2315" y="1117" textLength="166" lengthAdjust="spacingAndGlyphs">乳胶漆饰面</text>
<text x="2988" y="1117" textLength="166" lengthAdjust="spacingAndGlyphs">乳胶漆饰面</text>
</g>
<text x="2606" y="1214" text-anchor="middle" class="b n" font-size="36" textLength="34" lengthAdjust="spacingAndGlyphs">04</text>
<text x="2606" y="1268" text-anchor="middle" class="b n" font-size="36" textLength="98" lengthAdjust="spacingAndGlyphs">RC-B-01</text>
<text x="2721" y="1211" class="b" font-size="56" textLength="255" lengthAdjust="spacingAndGlyphs">DETAILS</text>
<text x="2676" y="1268" class="cn" font-size="38" textLength="114" lengthAdjust="spacingAndGlyphs">大样图</text>
<text x="2823" y="1266" class="b" font-size="36" textLength="185" lengthAdjust="spacingAndGlyphs">SCALE 1:5</text>

<g class="cn" font-size="30">
<text x="459" y="1406" textLength="319" lengthAdjust="spacingAndGlyphs">双层9.5厘石膏板基层</text>
<text x="274" y="1459" textLength="332" lengthAdjust="spacingAndGlyphs">主龙骨(承载龙骨)CS60</text>
<text x="418" y="1518" textLength="99" lengthAdjust="spacingAndGlyphs">次龙骨</text>
<text x="335" y="1569" textLength="134" lengthAdjust="spacingAndGlyphs">龙骨挂件</text>
<text x="100" y="1769" textLength="130" lengthAdjust="spacingAndGlyphs">护角铝条</text>
<text x="1528" y="1704" textLength="232" lengthAdjust="spacingAndGlyphs">M8全牙镀锌吊杆</text>
<text x="1537" y="1926" textLength="249" lengthAdjust="spacingAndGlyphs">9.5厘石膏板基层</text>
<text x="1554" y="1983" textLength="232" lengthAdjust="spacingAndGlyphs">毛细管网预埋层</text>
<text x="1690" y="2036" textLength="96" lengthAdjust="spacingAndGlyphs">抹灰层</text>
<text x="1033" y="2528" textLength="189" lengthAdjust="spacingAndGlyphs">暗藏LED灯带</text>
<text x="594" y="2611" textLength="166" lengthAdjust="spacingAndGlyphs">乳胶漆饰面</text>
<text x="1370" y="2611" textLength="166" lengthAdjust="spacingAndGlyphs">乳胶漆饰面</text>
</g>
<text x="804" y="2018" class="b" font-size="96" textLength="150" lengthAdjust="spacingAndGlyphs">E/A</text>
<text x="478" y="1996" text-anchor="middle" class="b n" font-size="26" textLength="26" lengthAdjust="spacingAndGlyphs">10</text>
<text transform="translate(687,2050) rotate(-90)" text-anchor="middle" class="b n" font-size="30" textLength="40" lengthAdjust="spacingAndGlyphs">140</text>
<text transform="translate(631,2108) rotate(-90)" text-anchor="middle" class="b n" font-size="30" textLength="40" lengthAdjust="spacingAndGlyphs">200</text>
<text transform="translate(687,2243) rotate(-90)" text-anchor="middle" class="b n" font-size="30" textLength="27" lengthAdjust="spacingAndGlyphs">60</text>
<text x="808" y="2117" text-anchor="middle" class="b n" font-size="30" textLength="27" lengthAdjust="spacingAndGlyphs">60</text>
<text x="963" y="2117" text-anchor="middle" class="b n" font-size="30" textLength="41" lengthAdjust="spacingAndGlyphs">100</text>
<text x="610" y="2376" text-anchor="middle" class="b n" font-size="30" textLength="41" lengthAdjust="spacingAndGlyphs">200</text>
<text x="861" y="1940" class="cn" font-size="22" textLength="85" lengthAdjust="spacingAndGlyphs">2700 AFFL</text>
<text x="964" y="1941" font-size="24">▲</text>
<text x="1142" y="2326" class="cn" font-size="22" textLength="88" lengthAdjust="spacingAndGlyphs">2500 AFFL</text>
<text x="1247" y="2327" font-size="24">▲</text>
<g class="b n" font-size="24">
<text x="640" y="2525" text-anchor="middle">PT</text><text x="706" y="2525" text-anchor="middle">1001</text>
<text x="1414" y="2525" text-anchor="middle">PT</text><text x="1479" y="2525" text-anchor="middle">1001</text>
<text x="677" y="2570" text-anchor="middle" textLength="61" lengthAdjust="spacingAndGlyphs">PAINT</text>
<text x="1453" y="2570" text-anchor="middle" textLength="61" lengthAdjust="spacingAndGlyphs">PAINT</text>
</g>
<text x="806" y="2774" text-anchor="middle" class="b n" font-size="36" textLength="34" lengthAdjust="spacingAndGlyphs">05</text>
<text x="806" y="2828" text-anchor="middle" class="b n" font-size="36" textLength="98" lengthAdjust="spacingAndGlyphs">RC-B-01</text>
<text x="921" y="2776" class="b" font-size="56" textLength="259" lengthAdjust="spacingAndGlyphs">DETAILS</text>
<text x="880" y="2826" class="cn" font-size="38" textLength="115" lengthAdjust="spacingAndGlyphs">大样图</text>
<text x="1027" y="2824" class="b" font-size="36" textLength="185" lengthAdjust="spacingAndGlyphs">SCALE 1:5</text>

<g class="cn" font-size="30">
<text x="1897" y="1722" textLength="253" lengthAdjust="spacingAndGlyphs">9.5厘石膏板基层</text>
<text x="1897" y="1777" textLength="238" lengthAdjust="spacingAndGlyphs">毛细管网预埋层</text>
<text x="1897" y="1831" textLength="100" lengthAdjust="spacingAndGlyphs">抹灰层</text>
<text x="3282" y="1518" textLength="134" lengthAdjust="spacingAndGlyphs">护角铝条</text>
<text x="2761" y="2546" textLength="185" lengthAdjust="spacingAndGlyphs">暗藏LED灯带</text>
<text x="2427" y="2625" textLength="132" lengthAdjust="spacingAndGlyphs">金属饰面</text>
<text x="3125" y="2625" textLength="166" lengthAdjust="spacingAndGlyphs">乳胶漆饰面</text>
</g>
<text transform="translate(2983,2021) rotate(-90)" text-anchor="middle" class="b n" font-size="30" textLength="40" lengthAdjust="spacingAndGlyphs">190</text>
<text transform="translate(3038,2078) rotate(-90)" text-anchor="middle" class="b n" font-size="30" textLength="40" lengthAdjust="spacingAndGlyphs">250</text>
<text transform="translate(2980,2262) rotate(-90)" text-anchor="middle" class="b n" font-size="30" textLength="27" lengthAdjust="spacingAndGlyphs">60</text>
<text x="3205" y="1920" text-anchor="middle" class="b n" font-size="28" textLength="27" lengthAdjust="spacingAndGlyphs">10</text>
<text transform="translate(2413,2329) rotate(-90)" text-anchor="middle" class="b n" font-size="26" textLength="26" lengthAdjust="spacingAndGlyphs">10</text>
<text x="2719" y="2133" text-anchor="middle" class="b n" font-size="30" textLength="41" lengthAdjust="spacingAndGlyphs">100</text>
<text x="2872" y="2133" text-anchor="middle" class="b n" font-size="30" textLength="27" lengthAdjust="spacingAndGlyphs">60</text>
<text x="2334" y="2393" text-anchor="middle" class="b n" font-size="30" textLength="27" lengthAdjust="spacingAndGlyphs">20</text>
<text x="2642" y="2393" text-anchor="middle" class="b n" font-size="30" textLength="41" lengthAdjust="spacingAndGlyphs">300</text>
<text x="3072" y="2393" text-anchor="middle" class="b n" font-size="30" textLength="41" lengthAdjust="spacingAndGlyphs">200</text>
<g class="b n" font-size="24">
<text x="2462" y="2543" text-anchor="middle">MT</text><text x="2528" y="2543" text-anchor="middle">1001</text>
<text x="3168" y="2543" text-anchor="middle">PT</text><text x="3233" y="2543" text-anchor="middle">1001</text>
<text x="2493" y="2588" text-anchor="middle" textLength="112" lengthAdjust="spacingAndGlyphs">METAL FINISH</text>
<text x="3208" y="2588" text-anchor="middle" textLength="61" lengthAdjust="spacingAndGlyphs">PAINT</text>
</g>
<text x="2491" y="2780" text-anchor="middle" class="b n" font-size="36" textLength="34" lengthAdjust="spacingAndGlyphs">06</text>
<text x="2491" y="2834" text-anchor="middle" class="b n" font-size="36" textLength="98" lengthAdjust="spacingAndGlyphs">FC-B-01</text>
<text x="2603" y="2782" class="b" font-size="56" textLength="255" lengthAdjust="spacingAndGlyphs">DETAILS</text>
<text x="2561" y="2834" class="cn" font-size="38" textLength="121" lengthAdjust="spacingAndGlyphs">大样图</text>
<text x="2708" y="2832" class="b" font-size="36" textLength="182" lengthAdjust="spacingAndGlyphs">SCALE 1:5</text>

<text transform="translate(3640,285) rotate(-90)" font-size="14" textLength="125" lengthAdjust="spacingAndGlyphs">PROJECT NAME</text>
<text transform="translate(3698,701) rotate(-90)" class="cn" font-size="32" textLength="435" lengthAdjust="spacingAndGlyphs">北京市丰台区花乡樊家村项目</text>
<text transform="translate(3772,706) rotate(-90)" class="b n" font-size="54" textLength="574" lengthAdjust="spacingAndGlyphs">DISTRICT HUAXIANG FAMILY FAN PROJECT</text>
<text transform="translate(3843,718) rotate(-90)" class="b" font-size="50" textLength="225" lengthAdjust="spacingAndGlyphs">FENGTAI</text>
<text transform="translate(3912,710) rotate(-90)" class="b" font-size="52" textLength="407" lengthAdjust="spacingAndGlyphs">BEIJING, CHINA</text>
<text x="3638" y="746" font-size="16" textLength="90" lengthAdjust="spacingAndGlyphs">REVISIONS</text>
<text x="3893" y="746" font-size="16" textLength="42" lengthAdjust="spacingAndGlyphs">DATE</text>
<text x="3650" y="1153" font-size="14">1</text>
<text x="3942" y="1150" font-size="14">-</text>
<text x="3638" y="1192" font-size="16" textLength="48" lengthAdjust="spacingAndGlyphs">CLIEN</text>
<text x="3877" y="1193" class="cn" font-size="17" textLength="66" lengthAdjust="spacingAndGlyphs">建设单位</text>
<text x="3790" y="1210" font-size="16">-</text>
<g font-size="13">
<text x="3633" y="1248" textLength="318" lengthAdjust="spacingAndGlyphs">ALL DESIGNS AND SPECIFICATIONS ARE THE PROPERTY OF</text>
<text x="3633" y="1263" textLength="318" lengthAdjust="spacingAndGlyphs">CHENG CHUNG DESIGN (HK) LTD . AND CANNOT USED WITHOUT</text>
<text x="3633" y="1278" textLength="318" lengthAdjust="spacingAndGlyphs">THEIR WRITTEN PERMISSION. THE SAME SHALL BE RETURNED</text>
<text x="3633" y="1293" textLength="318" lengthAdjust="spacingAndGlyphs">UPON COMPLETION OF THE PROJECT. DO NOT SCALE DRAWINGS.</text>
<text x="3633" y="1308" textLength="318" lengthAdjust="spacingAndGlyphs">ALL MEASUREMENTS MUST BE CHECKED ON SITE BY</text>
<text x="3633" y="1323" textLength="318" lengthAdjust="spacingAndGlyphs">THE CONTRACTORS AND ANY DISCREPANCIES BROUGHT</text>
<text x="3633" y="1338" textLength="318" lengthAdjust="spacingAndGlyphs">TO THE ATTENTION OF THE DESIGNER OR ARCHITECT.</text>
<text x="3633" y="1353" textLength="318" lengthAdjust="spacingAndGlyphs">THIS DRAWING IS TO BE USED FOR THE PROJECT AND SITE</text>
<text x="3633" y="1368" textLength="318" lengthAdjust="spacingAndGlyphs">IDENTIFIED AND NOT TO BE USED ON ANY OTHER PROJECT.</text>
</g>
<text x="3642" y="1524" class="cn" font-size="150" textLength="293" lengthAdjust="spacingAndGlyphs">CCD</text>
<text x="3647" y="1550" class="cn b" font-size="26" textLength="285" lengthAdjust="spacingAndGlyphs">ChengChung ⊕ Design</text>
<text x="3653" y="1581" class="tc b" font-size="24" textLength="267" lengthAdjust="spacingAndGlyphs">香港鄭中設計事務所</text>
<g class="b" font-size="13">
<text x="3633" y="1639" textLength="212" lengthAdjust="spacingAndGlyphs">CHENGCHUNG DESIGN (HK) LTD.</text>
<text x="3633" y="1657" textLength="299" lengthAdjust="spacingAndGlyphs">27F , CNT TOWER , NO . 338 HENNESSY ROAD</text>
<text x="3633" y="1676" textLength="162" lengthAdjust="spacingAndGlyphs">WAN CHAI , HONG KONG</text>
<text x="3633" y="1696" textLength="322" lengthAdjust="spacingAndGlyphs">TEL. NO.+852-2548-2009   FAX. NO.+852-2548-2089</text>
<text x="3633" y="1715" textLength="205" lengthAdjust="spacingAndGlyphs">E-MAIL: DESIGN@CCD.COM.HK</text>
</g>
<text x="3635" y="1739" font-size="15" textLength="130" lengthAdjust="spacingAndGlyphs">DRAWING TITLE</text>
<text x="3910" y="1739" class="cn" font-size="15" textLength="57" lengthAdjust="spacingAndGlyphs">图    名</text>
<text transform="translate(3698,2359) rotate(-90)" class="b n" font-size="46" textLength="458" lengthAdjust="spacingAndGlyphs">ICC APARTMENT  公寓部分</text>
<text transform="translate(3783,2359) rotate(-90)" class="b n" font-size="44" textLength="393" lengthAdjust="spacingAndGlyphs">LEVEL  1#、3#楼标准层</text>
<text transform="translate(3852,2359) rotate(-90)" class="b n" font-size="42" textLength="481" lengthAdjust="spacingAndGlyphs">HOUSE TYPE 175      175户型</text>
<text transform="translate(3923,2359) rotate(-90)" class="b n" font-size="44" textLength="356" lengthAdjust="spacingAndGlyphs">DETAILS 大 样 图</text>
<g font-size="15">
<text x="3633" y="2388" textLength="170" lengthAdjust="spacingAndGlyphs">DESIGN NO.设计编号:</text>
<text x="3833" y="2414" text-anchor="middle" class="b" font-size="17">003-04</text>
<text x="3632" y="2444" textLength="291" lengthAdjust="spacingAndGlyphs">PROJECT DIRECTOR    设计总负责人</text>
<text x="3632" y="2472">PH</text>
<text x="3632" y="2497" textLength="156" lengthAdjust="spacingAndGlyphs">DESIGNED BY  设计</text>
<text x="3815" y="2497" textLength="137" lengthAdjust="spacingAndGlyphs">DRAWN BY  绘图</text>
<text x="3632" y="2530">PH</text><text x="3815" y="2530">PH</text>
<text x="3632" y="2556" textLength="190" lengthAdjust="spacingAndGlyphs">PROCESSED BY  审核人</text>
<text x="3632" y="2583">PH</text>
<text x="3630" y="2610" textLength="323" lengthAdjust="spacingAndGlyphs">CHECKED BY校对人 APPROVED BY核准</text>
<text x="3632" y="2639">PH</text><text x="3787" y="2639">BK/JB</text>
<text x="3632" y="2666" textLength="142" lengthAdjust="spacingAndGlyphs">DISCIPLINE  专业</text>
<text x="3833" y="2666" textLength="119" lengthAdjust="spacingAndGlyphs">STATUS  阶段</text>
<text x="3685" y="2690">装饰</text><text x="3857" y="2690">施工图</text>
<text x="3632" y="2718" textLength="105" lengthAdjust="spacingAndGlyphs">SCALE   比例</text>
<text x="3833" y="2718" textLength="119" lengthAdjust="spacingAndGlyphs">DATE     日期</text>
<text x="3637" y="2745" class="b" textLength="75" lengthAdjust="spacingAndGlyphs">见图@A3</text>
<text x="3833" y="2745" class="b" textLength="144" lengthAdjust="spacingAndGlyphs">01/AUGUST/2017</text>
<text x="3633" y="2770" font-size="13" textLength="95" lengthAdjust="spacingAndGlyphs">SHEET NO. 图号</text>
</g>
<text x="3713" y="2831" class="b" font-size="58" textLength="166" lengthAdjust="spacingAndGlyphs">DT-B-02</text>
</svg>
</body></html>
